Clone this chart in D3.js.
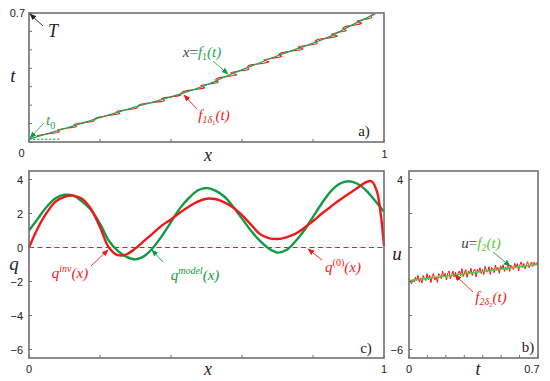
<!DOCTYPE html>
<html>
<head>
<meta charset="utf-8">
<script src="https://cdn.jsdelivr.net/npm/d3@7"></script>
<style>
  body { margin: 0; background: #fff; }
  svg text { fill: #222; }
</style>
</head>
<body>
<svg id="chart" width="550" height="381"></svg>
<script>
// panel a) : x = f1(t), exact and noisy
const topGreenX = [0, 0.1, 0.2, 0.3, 0.4, 0.5, 0.557, 0.65, 0.7, 0.8, 0.85, 0.9, 0.95, 0.975];
const topGreenT = [0.015, 0.073, 0.132, 0.19, 0.245, 0.31, 0.358, 0.43, 0.468, 0.537, 0.575, 0.625, 0.672, 0.695];
// x offsets of the noisy curve, one per t step of 0.01 starting at t = 0.035
const topRedDx = [-0.012, 0.004, 0.016, -0.006, 0.002, 0.014, -0.01, 0.0, 0.012, -0.004,
  -0.008, 0.006, 0.016, -0.01, 0.002, 0.013, -0.002, -0.012, 0.006, 0.018,
  -0.008, 0.0, 0.012, -0.002, -0.01, 0.008, 0.018, -0.008, 0.002, 0.015,
  -0.004, -0.012, 0.006, 0.019, -0.01, 0.0, 0.014, -0.002, -0.012, 0.008,
  0.02, -0.008, 0.004, 0.016, -0.006, -0.012, 0.008, 0.018, -0.01, 0.002,
  0.015, -0.004, -0.012, 0.008, 0.019, -0.008, 0.002, 0.014, -0.006, -0.01,
  0.008, 0.016, -0.008, 0.002, 0.012, -0.002, 0.0];

// panel c) : q(x)
const qX = [0, 0.025, 0.05, 0.075, 0.1, 0.125, 0.15, 0.175, 0.2, 0.225, 0.25, 0.275, 0.3, 0.325,
  0.35, 0.375, 0.4, 0.425, 0.45, 0.475, 0.5, 0.525, 0.55, 0.575, 0.6, 0.625, 0.65, 0.675,
  0.7, 0.725, 0.75, 0.775, 0.8, 0.825, 0.85, 0.875, 0.9, 0.925, 0.95, 0.975, 1.0];
const qModel = [1.0, 1.7, 2.4, 2.9, 3.1, 3.05, 2.7, 2.2, 1.4, 0.4, -0.2, -0.55, -0.7, -0.5,
  0.0, 0.7, 1.5, 2.3, 2.9, 3.35, 3.5, 3.35, 3.0, 2.4, 1.7, 1.0, 0.4, -0.05,
  -0.3, -0.15, 0.35, 1.0, 1.8, 2.6, 3.3, 3.75, 3.9, 3.75, 3.35, 2.75, 2.1];
const qInvX = [0, 0.025, 0.05, 0.075, 0.1, 0.125, 0.15, 0.175, 0.2, 0.225, 0.25, 0.275, 0.3, 0.325,
  0.35, 0.375, 0.4, 0.425, 0.45, 0.475, 0.5, 0.525, 0.55, 0.575, 0.6, 0.625, 0.65, 0.675,
  0.7, 0.725, 0.75, 0.775, 0.8, 0.825, 0.85, 0.875, 0.9, 0.925, 0.95, 0.965, 0.98, 0.99, 1.0];
const qInv = [0, 1.15, 2.05, 2.7, 2.98, 3.05, 2.85, 2.25, 1.2, 0.0, -0.45, -0.4, -0.05, 0.4,
  0.85, 1.3, 1.65, 2.05, 2.4, 2.7, 2.87, 2.85, 2.65, 2.35, 1.9, 1.35, 0.8, 0.55,
  0.5, 0.6, 0.8, 1.15, 1.55, 2.0, 2.4, 2.8, 3.15, 3.5, 3.85, 3.9, 3.3, 2.1, 0.1];

// panel b) : u = f2(t)
const uGreenT = [0, 0.7];
const uGreen = [-1.95, -1.0];
const uRedNoise = [0.15, -0.1, -0.25, 0.05, -0.15, 0.2, -0.05, 0.3, -0.2, 0.1,
  -0.3, 0.25, 0.0, -0.15, 0.35, -0.1, 0.2, -0.35, 0.1, 0.3,
  -0.2, 0.05, -0.4, 0.25, 0.1, -0.15, 0.4, -0.05, 0.2, -0.3,
  0.15, 0.35, -0.25, 0.0, 0.3, -0.15, 0.2, -0.35, 0.1, 0.25,
  -0.1, 0.4, -0.2, 0.05, 0.3, -0.3, 0.15, -0.05, 0.35, -0.2,
  0.1, 0.25, -0.35, 0.2, 0.0, 0.3, -0.15, 0.15, -0.25, 0.35,
  0.05, -0.1, 0.3, -0.3, 0.2, 0.1, -0.2, 0.35, -0.05, 0.15,
  -0.3, 0.25, 0.0, 0.3, -0.2, 0.1, -0.1, 0.35, -0.25, 0.2,
  0.05, -0.15, 0.3, -0.05, 0.25, -0.3, 0.15, 0.35, -0.1, 0.2,
  -0.2, 0.1, 0.3, -0.15, 0.05, 0.25, -0.1, 0.2, 0.0, 0.15, 0.05];

const qTicks = [4, 2, 0, -2, -4, -6];

const RED = "#f01818";
const GREEN = "#119a45";
const GREEN_A = "#22a452";
const GREEN_B = "#55c83a";
const FRAME = "#707070";
const SANS = "Liberation Sans, Arial, sans-serif";
const SERIF = "Liberation Serif, DejaVu Serif, serif";

const svg = d3.select("#chart");

// arrow heads
const defs = svg.append("defs");
[["red", RED], ["green", GREEN], ["black", "#222"]].forEach(([id, c]) => {
    defs.append("marker")
        .attr("id", "head-" + id)
        .attr("viewBox", "0 0 10 10")
        .attr("refX", 9).attr("refY", 5)
        .attr("markerWidth", 7).attr("markerHeight", 7)
        .attr("markerUnits", "userSpaceOnUse")
        .attr("orient", "auto")
        .append("path")
        .attr("d", "M0,1 L10,5 L0,9 Z")
        .attr("fill", c);
});

function arrow(x1, y1, x2, y2, id, color) {
    svg.append("line")
        .attr("x1", x1).attr("y1", y1).attr("x2", x2).attr("y2", y2)
        .attr("stroke", color).attr("stroke-width", 0.9)
        .attr("marker-end", "url(#head-" + id + ")");
}

function tickText(x, y, label, anchor) {
    svg.append("text")
        .attr("x", x).attr("y", y)
        .attr("font-family", SANS).attr("font-size", 11)
        .attr("text-anchor", anchor || "middle")
        .text(label);
}

// draw a frame with inward ticks on left and bottom
function frame(x, y, xTicks, yTicks) {
    const [x0, x1] = x.range();
    const [y0, y1] = y.range();
    const g = svg.append("g");
    g.selectAll(".xt").data(xTicks).enter().append("line")
        .attr("x1", d => x(d)).attr("x2", d => x(d))
        .attr("y1", y0).attr("y2", y0 - 3)
        .attr("stroke", FRAME).attr("stroke-width", 1);
    g.selectAll(".yt").data(yTicks).enter().append("line")
        .attr("x1", x0).attr("x2", x0 + 3)
        .attr("y1", d => y(d)).attr("y2", d => y(d))
        .attr("stroke", FRAME).attr("stroke-width", 1);
    g.append("rect")
        .attr("x", x0).attr("y", y1)
        .attr("width", x1 - x0).attr("height", y0 - y1)
        .attr("fill", "none").attr("stroke", FRAME).attr("stroke-width", 1.6);
}

function mathText(x, y, size, parts, anchor) {
    const t = svg.append("text")
        .attr("x", x).attr("y", y)
        .attr("font-family", SERIF)
        .attr("font-style", "italic")
        .attr("font-size", size)
        .attr("text-anchor", anchor || "middle");
    parts.forEach(p => {
        const s = t.append("tspan").text(p.text);
        if (p.fill) s.style("fill", p.fill);
        if (p.shift) s.attr("dy", p.shift);
        if (p.size) s.attr("font-size", p.size);
        if (p.upright) s.attr("font-style", "normal");
    });
    return t;
}

function panelTag(x, y, label) {
    svg.append("text")
        .attr("x", x).attr("y", y)
        .attr("font-family", SERIF).attr("font-size", 15)
        .attr("text-anchor", "middle")
        .text(label);
}

// ---------- panel a) ----------
const xA = d3.scaleLinear().domain([0, 1]).range([29, 384]);
const tA = d3.scaleLinear().domain([0, 0.7]).range([142, 13]);
const tToX = d3.scaleLinear().domain(topGreenT).range(topGreenX).clamp(true);

const redTop = topRedDx.map((dx, i) => {
    const t = 0.035 + i * 0.01;
    return [tToX(t) + dx, t];
});

svg.append("path")
    .datum(redTop)
    .attr("fill", "none").attr("stroke", RED).attr("stroke-width", 1.1)
    .attr("d", d3.line().curve(d3.curveCatmullRom.alpha(0.5)).x(d => xA(d[0])).y(d => tA(d[1])));

svg.append("path")
    .datum(topGreenX.map((v, i) => [v, topGreenT[i]]))
    .attr("fill", "none").attr("stroke", GREEN_A).attr("stroke-width", 1.3)
    .attr("d", d3.line().curve(d3.curveMonotoneX).x(d => xA(d[0])).y(d => tA(d[1])));

svg.append("line")
    .attr("x1", xA(0)).attr("x2", xA(0.09))
    .attr("y1", tA(topGreenT[0])).attr("y2", tA(topGreenT[0]))
    .attr("stroke", GREEN_A).attr("stroke-width", 1).attr("stroke-dasharray", "2.5,1.5");

frame(xA, tA, d3.range(0, 1.01, 0.2), d3.range(0, 0.71, 0.1));

tickText(25, 17, "0.7", "end");
tickText(21.5, 157, "0");
tickText(384.5, 158, "1");
mathText(208, 161, 18, [{ text: "x" }]);
mathText(13, 82, 19, [{ text: "t" }]);

mathText(53, 37, 18, [{ text: "T" }]);
arrow(43, 26, 30, 14, "black", "#222");
mathText(46, 125, 15, [{ text: "t", fill: GREEN_A }, { text: "0", fill: GREEN_A, shift: 4, size: 10, upright: true }], "start");
arrow(44, 123, 30, 138, "green", GREEN_A);

mathText(202, 57, 15, [
    { text: "x", fill: "#444" }, { text: "=", fill: "#444", upright: true },
    { text: "f", fill: GREEN_A }, { text: "1", fill: GREEN_A, shift: 3, size: 10, upright: true },
    { text: "(t)", fill: GREEN_A, shift: -3 }]);
arrow(213, 61, 228, 74, "green", GREEN_A);

mathText(214, 120, 15, [
    { text: "f", fill: RED }, { text: "1δ", fill: RED, shift: 3, size: 10 },
    { text: "1", fill: RED, shift: 2, size: 7, upright: true },
    { text: "(t)", fill: RED, shift: -5 }]);
arrow(197, 109, 184, 95, "red", RED);

panelTag(364, 136, "a)");

// ---------- panel c) ----------
const xC = d3.scaleLinear().domain([0, 1]).range([29, 384]);
const qC = d3.scaleLinear().domain([-6.5, 4.5]).range([358, 171]);

svg.append("line")
    .attr("x1", xC(0)).attr("x2", xC(1)).attr("y1", qC(0)).attr("y2", qC(0))
    .attr("stroke", RED).attr("stroke-width", 1).attr("stroke-dasharray", "5,3.5");

const qLine = d3.line().curve(d3.curveCatmullRom.alpha(0.5)).x(d => xC(d[0])).y(d => qC(d[1]));

svg.append("path")
    .datum(qX.map((v, i) => [v, qModel[i]]))
    .attr("fill", "none").attr("stroke", GREEN).attr("stroke-width", 2.4)
    .attr("d", qLine);

svg.append("path")
    .datum(qInvX.map((v, i) => [v, qInv[i]]))
    .attr("fill", "none").attr("stroke", RED).attr("stroke-width", 2.4)
    .attr("d", qLine);

frame(xC, qC, d3.range(0, 1.01, 0.2), qTicks);

qTicks.forEach(d => tickText(23, qC(d) + 4, d < 0 ? "\u2212" + Math.abs(d) : String(d), "end"));
tickText(29, 373, "0");
tickText(384, 373, "1");
mathText(208, 375, 18, [{ text: "x" }]);
mathText(14, 270, 19, [{ text: "q" }]);

mathText(70, 278, 15, [
    { text: "q", fill: RED }, { text: "inv", fill: RED, shift: -6, size: 10 },
    { text: "(x)", fill: RED, shift: 6 }]);
arrow(91, 266, 108, 250, "red", RED);

mathText(195, 280, 15, [
    { text: "q", fill: GREEN }, { text: "model", fill: GREEN, shift: -6, size: 10 },
    { text: "(x)", fill: GREEN, shift: 6 }]);
arrow(163, 262, 152, 250, "green", GREEN);

mathText(343, 272, 15, [
    { text: "q", fill: RED }, { text: "(0)", fill: RED, shift: -6, size: 10, upright: true },
    { text: "(x)", fill: RED, shift: 6 }]);
arrow(322, 260, 308, 249, "red", RED);

panelTag(366, 353, "c)");

// ---------- panel b) ----------
const tB = d3.scaleLinear().domain([0, 0.7]).range([409, 538]);
const uB = d3.scaleLinear().domain([-6.5, 4.5]).range([358, 171]);
const uAt = d3.scaleLinear().domain(uGreenT).range(uGreen);

const redB = uRedNoise.map((n, i) => {
    const t = i * 0.7 / (uRedNoise.length - 1);
    return [t, uAt(t) + n * 0.8];
});

svg.append("path")
    .datum(redB)
    .attr("fill", "none").attr("stroke", RED).attr("stroke-width", 1)
    .attr("d", d3.line().x(d => tB(d[0])).y(d => uB(d[1])));

svg.append("path")
    .datum(uGreenT.map((v, i) => [v, uGreen[i]]))
    .attr("fill", "none").attr("stroke", GREEN_B).attr("stroke-width", 1.5)
    .attr("d", d3.line().x(d => tB(d[0])).y(d => uB(d[1])));

frame(tB, uB, d3.range(0, 0.71, 0.1), qTicks);

tickText(403, uB(4) + 4, "4", "end");
tickText(403, uB(-6) + 4, "\u22126", "end");
tickText(409, 373, "0");
tickText(532, 373, "0.7");
mathText(478, 375, 18, [{ text: "t" }]);
mathText(397, 260, 19, [{ text: "u" }]);

mathText(481, 248, 15, [
    { text: "u", fill: "#444" }, { text: "=", fill: "#444", upright: true },
    { text: "f", fill: GREEN_B }, { text: "2", fill: GREEN_B, shift: 3, size: 10, upright: true },
    { text: "(t)", fill: GREEN_B, shift: -3 }]);
arrow(493, 252, 510, 266, "green", GREEN);

mathText(491, 302, 15, [
    { text: "f", fill: RED }, { text: "2δ", fill: RED, shift: 3, size: 10 },
    { text: "2", fill: RED, shift: 2, size: 7, upright: true },
    { text: "(t)", fill: RED, shift: -5 }]);
arrow(473, 292, 455, 275, "red", RED);

panelTag(528, 352, "b)");
</script>
</body>
</html>
